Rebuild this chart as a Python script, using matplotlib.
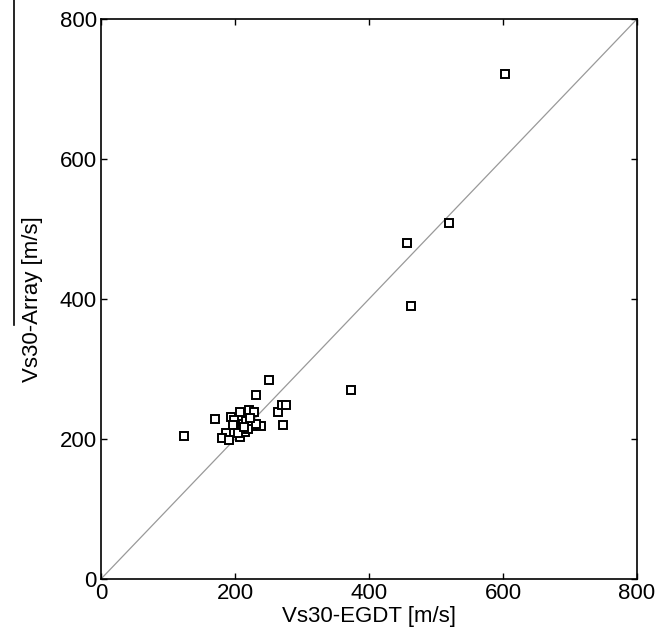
import matplotlib
matplotlib.use("Agg")
import matplotlib.pyplot as plt
from matplotlib.lines import Line2D

plt.rcParams['font.family'] = ['Liberation Sans', 'DejaVu Sans']

vs30_egdt = [124, 170, 251, 231, 194, 208, 221, 228, 264, 270, 276, 272, 239,
             186, 181, 191, 208, 199, 197, 212, 217, 210, 215, 225, 232, 205,
             220, 213, 222, 457, 462, 520, 603, 373]
vs30_array = [204, 228, 285, 263, 232, 238, 241, 239, 239, 249, 249, 220, 218,
              208, 202, 198, 203, 227, 220, 222, 226, 214, 210, 218, 222, 208,
              215, 217, 230, 480, 390, 509, 722, 270]

ticks = [0, 200, 400, 600, 800]

fig = plt.figure(figsize=(6.68, 6.43), dpi=100)
ax = fig.add_axes([101 / 668, 64 / 643, 536 / 668, 560 / 643])

ax.plot([0, 800], [0, 800], color="#999999", linewidth=0.9, zorder=1)
ax.plot(vs30_egdt, vs30_array, linestyle="none", marker="s", markersize=5.3,
        markerfacecolor="white", markeredgecolor="black", markeredgewidth=1.4,
        zorder=2)

ax.set_xlim(0, 800)
ax.set_ylim(0, 800)
ax.set_xticks(ticks)
ax.set_yticks(ticks)
ax.tick_params(direction="in", length=4, width=1, labelsize=16, pad=3,
               top=True, right=True)
for s in ax.spines.values():
    s.set_linewidth(1.2)

ax.set_xlabel("Vs30-EGDT [m/s]", fontsize=16, labelpad=1)
ax.set_ylabel("Vs30-Array [m/s]", fontsize=16, labelpad=12)

# stray vertical line at the left edge of the figure
fig.add_artist(Line2D([14 / 668, 14 / 668], [1.0, 1 - 325 / 643],
                      transform=fig.transFigure, color="black", linewidth=1.2))

fig.savefig("out.png", dpi=100)
